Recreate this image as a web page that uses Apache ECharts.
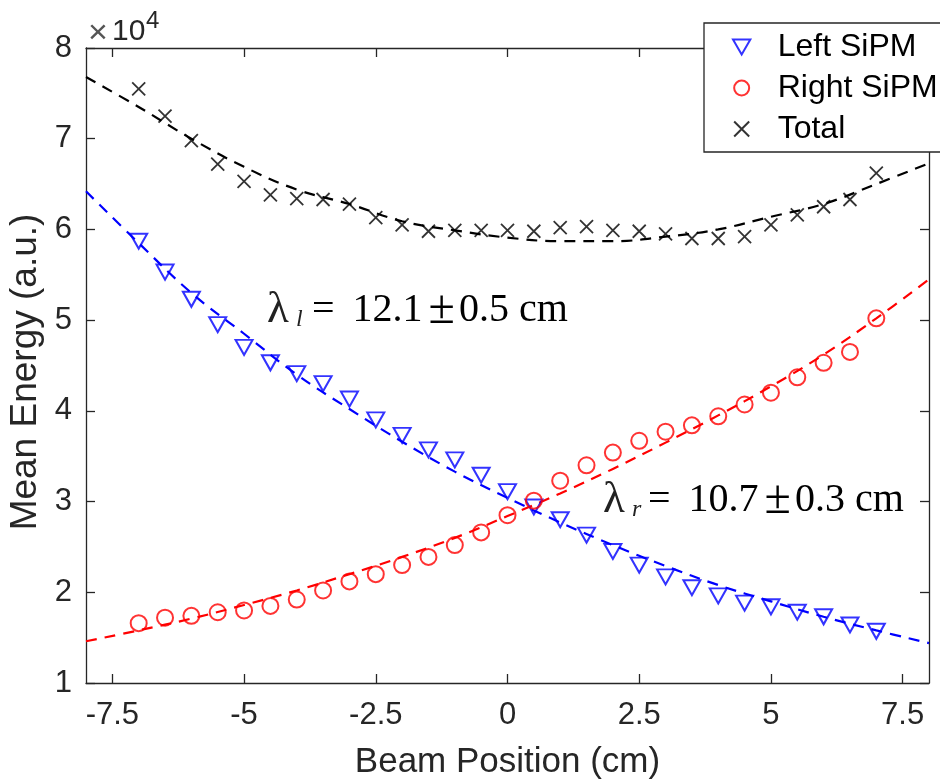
<!DOCTYPE html>
<html><head><meta charset="utf-8">
<script src="https://cdn.jsdelivr.net/npm/echarts@6/dist/echarts.min.js"></script>
<style>html,body{margin:0;padding:0;background:#fff}#c{width:940px;height:781px}</style>
</head><body><div id="c"></div>
<script>
// Beam positions (cm)
const positions = [-7,-6.5,-6,-5.5,-5,-4.5,-4,-3.5,-3,-2.5,-2,-1.5,-1,-0.5,0,0.5,1,1.5,2,2.5,3,3.5,4,4.5,5,5.5,6,6.5,7];
// Mean energy (x10^4 a.u.)
const leftSiPM  = [5.87,5.53,5.23,4.95,4.70,4.53,4.41,4.30,4.13,3.90,3.73,3.57,3.46,3.29,3.11,2.94,2.80,2.63,2.45,2.30,2.17,2.05,1.96,1.88,1.84,1.78,1.73,1.64,1.57];
const rightSiPM = [1.66,1.72,1.74,1.78,1.80,1.85,1.92,2.02,2.12,2.20,2.30,2.39,2.52,2.66,2.85,3.01,3.23,3.40,3.54,3.67,3.77,3.84,3.94,4.07,4.20,4.37,4.53,4.65,5.02];
const totalE    = [7.55,7.25,6.98,6.72,6.53,6.38,6.34,6.33,6.28,6.13,6.05,5.98,5.99,5.99,5.99,5.98,6.02,6.03,5.99,5.98,5.95,5.90,5.90,5.92,6.05,6.16,6.25,6.33,6.62];
// Fitted curves
const fitX      = [-8,-7,-6,-5,-4,-3,-2,-1,0,1,2,3,4,5,6,7,8];
const leftFit   = [6.42,5.85,5.30,4.85,4.40,4.02,3.66,3.33,3.04,2.77,2.52,2.29,2.08,1.90,1.73,1.58,1.44];
const rightFit  = [1.46,1.58,1.71,1.86,2.02,2.20,2.39,2.60,2.84,3.09,3.36,3.65,3.95,4.27,4.62,5.02,5.45];
const totalFit  = [7.68,7.35,7.00,6.69,6.44,6.28,6.09,5.99,5.91,5.87,5.87,5.92,6.00,6.14,6.28,6.50,6.73];
// Axis ticks
const xTicks = [-7.5,-5,-2.5,0,2.5,5,7.5];
const xTickLabels = ['-7.5','-5','-2.5','0','2.5','5','7.5'];
const yTicks = [1,2,3,4,5,6,7,8];
const seriesNames = ['Left SiPM','Right SiPM','Total'];
const annLeft  = {sym: '\u03bb', sub: 'l', val: '12.1', err: '0.5', unit: 'cm'};
const annRight = {sym: '\u03bb', sub: 'r', val: '10.7', err: '0.3', unit: 'cm'};

const AX = '#262626';
const SANS = 'Liberation Sans, Arial, Helvetica, sans-serif';
const SERIF = 'Liberation Serif, Times New Roman, serif';
const pairs = (xs, ys) => xs.map((x, i) => [x, ys[i]]);
const triDown = 'path://M0,0L20,0L10,17.3Z';
const cross = 'path://M0,0L10,10M10,0L0,10';

const chart = echarts.init(document.getElementById('c'), null, {renderer: 'canvas'});

const axisCommon = {
  axisLine: {show: true, onZero: false, lineStyle: {color: AX, width: 1.3}},
  axisTick: {show: true, inside: true, length: 9, lineStyle: {color: AX, width: 1.3}},
  splitLine: {show: false}
};

function fitSeries(name, ys, color) {
  return {
    name: name, type: 'line', data: pairs(fitX, ys), smooth: 0.4,
    showSymbol: false, symbol: 'none', silent: true, z: 3,
    lineStyle: {color: color, width: 2.2, type: [11, 8]}
  };
}

const TC = '#222';
const annRich = {
  n:  {fontSize: 40, fontFamily: SERIF, color: TC},
  pm: {fontSize: 48, fontFamily: SERIF, color: TC},
  s32: {fontSize: 32, fontFamily: SERIF, color: TC},
  s24: {fontSize: 24, fontFamily: SERIF, color: TC},
  s16: {fontSize: 16, fontFamily: SERIF, color: TC}
};
function annBody(a) {
  return '{n|= }{s32| }{n|' + a.val + '}{s24| }{pm|\u00b1}{s16| }{n|' + a.err + ' ' + a.unit + '}';
}
function annGraphics(a, x, yc) {
  return [
    {type: 'text', x: x, y: yc, style: {text: a.sym, fill: TC, font: '45px ' + SERIF, align: 'left', verticalAlign: 'middle'}},
    {type: 'text', x: x + 29, y: yc + 10, style: {text: a.sub, fill: TC, font: 'italic 24px ' + SERIF, align: 'left', verticalAlign: 'middle'}},
    {type: 'text', x: x + 45, y: yc, style: {text: annBody(a), rich: annRich, align: 'left', verticalAlign: 'middle'}}
  ];
}

const option = {
  animation: false,
  backgroundColor: '#ffffff',
  grid: {left: 86, right: 11, top: 48, bottom: 98, containLabel: false, outerBoundsMode: 'none'},
  xAxis: [
    Object.assign({}, axisCommon, {
      type: 'value', min: -8, max: 8, position: 'bottom',
      name: 'Beam Position (cm)', nameLocation: 'middle', nameGap: 62,
      nameTextStyle: {color: AX, fontSize: 35, fontFamily: SANS},
      axisTick: Object.assign({}, axisCommon.axisTick, {customValues: xTicks}),
      axisLabel: {customValues: xTicks, color: AX, fontSize: 31, fontFamily: SANS, margin: 17,
        formatter: v => xTickLabels[xTicks.indexOf(v)] }
    }),
    Object.assign({}, axisCommon, {
      type: 'value', min: -8, max: 8, position: 'top',
      axisTick: Object.assign({}, axisCommon.axisTick, {customValues: xTicks}),
      axisLabel: {show: false}
    })
  ],
  yAxis: [
    Object.assign({}, axisCommon, {
      type: 'value', min: 1, max: 8, interval: 1, position: 'left',
      name: 'Mean Energy (a.u.)', nameLocation: 'middle', nameGap: 41,
      nameTextStyle: {color: AX, fontSize: 37, fontFamily: SANS, padding: [0, 13, 0, 0]},
      axisLabel: {color: AX, fontSize: 31, fontFamily: SANS, margin: 14,
        formatter: v => String(yTicks[yTicks.indexOf(v)]) }
    }),
    Object.assign({}, axisCommon, {
      type: 'value', min: 1, max: 8, interval: 1, position: 'right',
      axisLabel: {show: false}
    })
  ],
  legend: {
    data: seriesNames,
    orient: 'vertical', left: 704, top: 23,
    padding: [8, 14, 7, 28], itemGap: 9,
    itemWidth: 62, itemHeight: 15,
    backgroundColor: '#ffffff', borderColor: AX, borderWidth: 1.3,
    textStyle: {color: '#000', fontSize: 32, fontFamily: SANS},
    selectedMode: false
  },
  series: [
    fitSeries('leftFit', leftFit, '#0000ff'),
    fitSeries('rightFit', rightFit, '#ff0000'),
    fitSeries('totalFit', totalFit, '#000000'),
    {
      name: 'Left SiPM', type: 'scatter', data: pairs(positions, leftSiPM),
      symbol: triDown, symbolSize: [17, 15], z: 4,
      itemStyle: {color: 'rgba(0,0,0,0)', borderColor: '#0000ff', borderWidth: 2}
    },
    {
      name: 'Right SiPM', type: 'scatter', data: pairs(positions, rightSiPM),
      symbol: 'circle', symbolSize: 16, z: 4,
      itemStyle: {color: 'rgba(0,0,0,0)', borderColor: '#ff0000', borderWidth: 2}
    },
    {
      name: 'Total', type: 'scatter', data: pairs(positions, totalE),
      symbol: cross, symbolSize: 13, z: 4,
      itemStyle: {color: 'rgba(0,0,0,0)', borderColor: '#000000', borderWidth: 1.8}
    }
  ],
  graphic: [
    {type: 'text', x: 98, y: 34, style: {text: '\u00d7', fill: '#555', font: '34px ' + SANS, align: 'center', verticalAlign: 'middle'}},
    {type: 'text', x: 112, y: 32, style: {text: '10', fill: AX, font: '30px ' + SANS, align: 'left', verticalAlign: 'middle'}},
    {type: 'text', x: 146, y: 21, style: {text: '4', fill: AX, font: '24px ' + SANS, align: 'left', verticalAlign: 'middle'}}
  ].concat(annGraphics(annLeft, 267, 310), annGraphics(annRight, 603, 500))
};
chart.setOption(option);
</script>
</body></html>
